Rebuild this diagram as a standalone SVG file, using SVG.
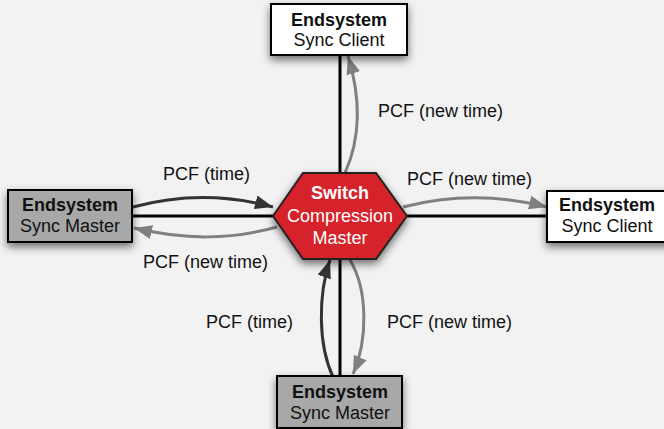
<svg xmlns="http://www.w3.org/2000/svg" width="664" height="429" viewBox="0 0 664 429">
<defs>
<filter id="sh" x="-30%" y="-30%" width="160%" height="180%">
<feDropShadow dx="0" dy="4" stdDeviation="4" flood-color="#000" flood-opacity="0.55"/>
</filter>
<marker id="ad" markerUnits="userSpaceOnUse" markerWidth="20" markerHeight="16" refX="18" refY="7" orient="auto">
<path d="M0,0 L18,7 L0,14 Z" fill="#333"/>
</marker>
<marker id="ag" markerUnits="userSpaceOnUse" markerWidth="20" markerHeight="16" refX="18" refY="7" orient="auto">
<path d="M0,0 L18,7 L0,14 Z" fill="#808080"/>
</marker>
<style>
text{font-family:"Liberation Sans",Arial,sans-serif;font-size:18px;fill:#111}
.b{font-weight:bold}
.box{stroke:#000;stroke-width:2;filter:url(#sh)}
.client{fill:#fff}
.master{fill:#a8a8a8}
.line{stroke:#000;stroke-width:3;fill:none}
.dk{stroke:#333;stroke-width:3;fill:none;marker-end:url(#ad)}
.gr{stroke:#808080;stroke-width:3;fill:none;marker-end:url(#ag)}
.w{fill:#fff;text-anchor:middle}
.c{text-anchor:middle}
</style>
</defs>
<rect width="664" height="429" fill="#f2f2f2"/>
<g id="connectors">
<line class="line" x1="132" y1="216" x2="547" y2="216"/>
<line class="line" x1="340" y1="55" x2="340" y2="376"/>
<path class="dk" d="M133,207 C180,194 225,194 273,207"/>
<path class="gr" d="M277,227 C230,240 185,240 134,228"/>
<path class="gr" d="M403,207 C450,195 500,195 547,207"/>
<path class="gr" d="M345,173 C362,135 360,95 348,56"/>
<path class="dk" d="M333,377 C318,345 318,295 330,260"/>
<path class="gr" d="M350,260 C368,290 368,340 353,374"/>
<text x="163" y="180">PCF (time)</text>
<text x="143" y="268">PCF (new time)</text>
<text x="407" y="185">PCF (new time)</text>
<text x="378" y="117">PCF (new time)</text>
<text x="206" y="328">PCF (time)</text>
<text x="387" y="328">PCF (new time)</text>
</g>
<g id="switch">
<polygon points="273,216 303,173 376,173 407,216 376,259 303,259" fill="#d6202a" stroke="#222" stroke-width="2" filter="url(#sh)"/>
<text class="w b" x="340" y="199">Switch</text>
<text class="w" x="340" y="222">Compression</text>
<text class="w" x="340" y="244">Master</text>
</g>
<g id="client-top">
<rect class="box client" x="271" y="4" width="136" height="51"/>
<text class="c b" x="339" y="26">Endsystem</text>
<text class="c" x="339" y="46">Sync Client</text>
</g>
<g id="client-right">
<rect class="box client" x="547" y="191" width="124" height="51"/>
<text class="c b" x="607" y="211">Endsystem</text>
<text class="c" x="607" y="232">Sync Client</text>
</g>
<g id="master-left">
<rect class="box master" x="8" y="190" width="124" height="52"/>
<text class="c b" x="70" y="211">Endsystem</text>
<text class="c" x="70" y="232">Sync Master</text>
</g>
<g id="master-bottom">
<rect class="box master" x="277" y="376" width="125" height="52"/>
<text class="c b" x="340" y="398">Endsystem</text>
<text class="c" x="340" y="419">Sync Master</text>
</g>
</svg>
